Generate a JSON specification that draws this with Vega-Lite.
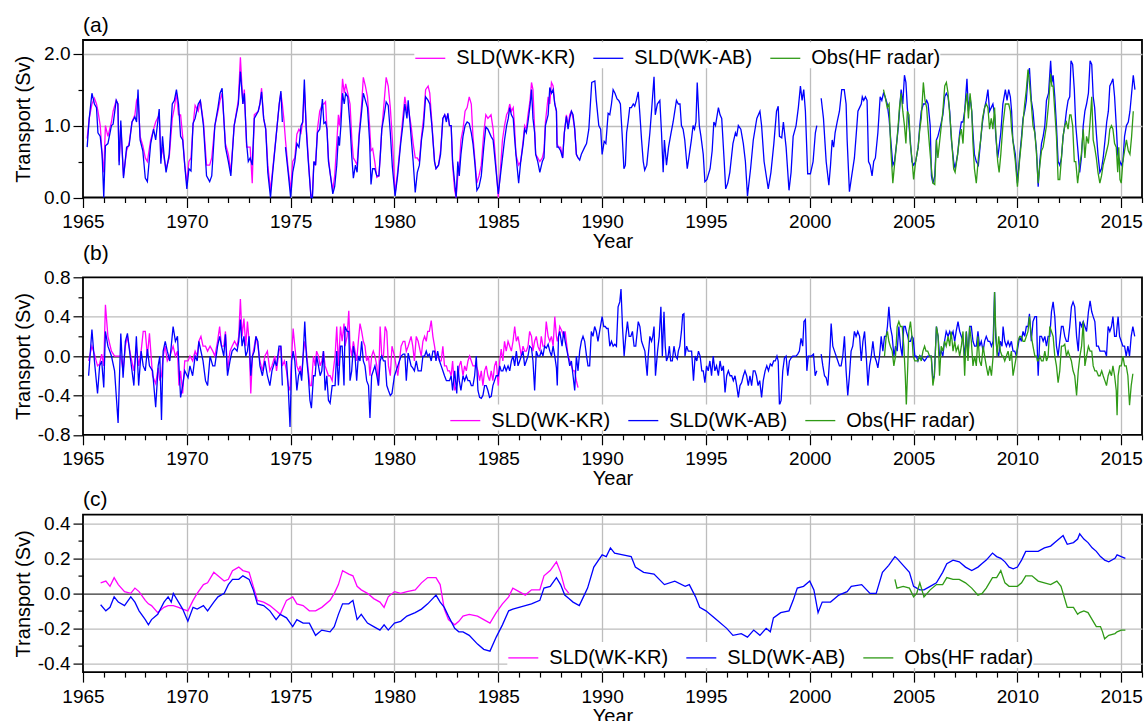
{
"$schema":"https://vega.github.io/schema/vega-lite/v6.json",
"background":"white",
"padding":{"left":12,"top":14,"right":8,"bottom":0},
"spacing":79.3,
"bounds":"flush",
"resolve":{"scale":{"color":"independent","y":"independent"},"legend":{"color":"independent"}},
"config":{
 "font":"Liberation Sans",
 "view":{"stroke":"black","strokeWidth":1.8},
 "axis":{"domain":false,"tickColor":"black","tickWidth":1.2,"labelColor":"black","labelFontSize":19,"titleFontSize":20,"titleFontWeight":"normal","titleColor":"black","gridColor":"#bdbdbd","gridWidth":1.3,"labelPadding":3,"labelOverlap":false,"labelBound":false,"labelFlush":false},
 "axisX":{"titlePadding":0,"labelPadding":5},
 "axisY":{"titleX":-60,"titleBaseline":"middle"},
 "legend":{"labelFontSize":20,"labelColor":"black","symbolType":"stroke","symbolSize":900,"symbolStrokeWidth":2,"fillColor":"white","padding":0,"columnPadding":15,"labelOffset":10,"direction":"horizontal","orient":"none"},
 "title":{"anchor":"start","fontSize":21,"fontWeight":"normal","color":"black","offset":4,"frame":"group"},
 "line":{"strokeWidth":1.3,"clip":true}
},
"datasets":{
"A":[
{"t":1965.2,"w":0.7,"k":0.82},{"t":1965.3,"w":1.1,"k":1.1},{"t":1965.43,"w":1.45,"k":1.3},{"t":1965.55,"w":1.3,"k":1.38},{"t":1965.65,"w":1.25,"k":1.3},{"t":1965.72,"w":0.9,"k":1.2},{"t":1965.83,"w":0.85,"k":1.0},{"t":1965.92,"w":0.6,"k":0.6},{"t":1966.0,"w":0.0,"k":0.35},{"t":1966.08,"w":0.72,"k":1.0},{"t":1966.2,"w":0.75,"k":0.85},{"t":1966.37,"w":1.0,"k":1.05},{"t":1966.45,"w":1.02,"k":1.2},{"t":1966.6,"w":1.35,"k":1.35},{"t":1966.68,"w":1.3,"k":1.3},{"t":1966.74,"w":0.45,"k":0.5},{"t":1966.82,"w":1.07,"k":1.0},{"t":1966.95,"w":0.27,"k":0.3},
{"t":1967.1,"w":0.7,"k":0.65},{"t":1967.22,"w":0.72,"k":0.75},{"t":1967.36,"w":1.05,"k":1.05},{"t":1967.5,"w":1.12,"k":1.15},{"t":1967.58,"w":1.05,"k":1.35},{"t":1967.65,"w":1.5,"k":1.4},{"t":1967.75,"w":0.8,"k":0.85},{"t":1967.88,"w":0.65,"k":0.72},{"t":1968.0,"w":0.27,"k":0.55},{"t":1968.1,"w":0.22,"k":0.5},{"t":1968.26,"w":0.75,"k":0.8},{"t":1968.4,"w":0.95,"k":0.95},{"t":1968.5,"w":0.8,"k":1.05},{"t":1968.67,"w":1.23,"k":1.15},{"t":1968.75,"w":0.47,"k":0.55},{"t":1968.83,"w":0.85,"k":0.7},{"t":1968.9,"w":0.6,"k":0.55},
{"t":1969.0,"w":0.35,"k":0.4},{"t":1969.15,"w":0.6,"k":0.55},{"t":1969.3,"w":1.3,"k":1.1},{"t":1969.4,"w":1.35,"k":1.25},{"t":1969.5,"w":1.5,"k":1.45},{"t":1969.6,"w":1.3,"k":1.15},{"t":1969.7,"w":0.85,"k":1.15},{"t":1969.8,"w":0.8,"k":0.85},{"t":1969.9,"w":0.45,"k":0.45},{"t":1970.0,"w":0.12,"k":0.2},{"t":1970.1,"w":0.4,"k":0.5},{"t":1970.2,"w":0.37,"k":0.55},{"t":1970.3,"w":1.03,"k":1.0},{"t":1970.4,"w":1.1,"k":1.28},{"t":1970.55,"w":1.3,"k":1.2},{"t":1970.65,"w":1.35,"k":1.35},{"t":1970.8,"w":1.0,"k":1.05},{"t":1970.95,"w":0.3,"k":0.45},
{"t":1971.1,"w":0.22,"k":0.45},{"t":1971.2,"w":0.3,"k":0.55},{"t":1971.35,"w":1.0,"k":1.0},{"t":1971.5,"w":1.25,"k":1.2},{"t":1971.6,"w":1.45,"k":1.35},{"t":1971.7,"w":1.52,"k":1.45},{"t":1971.86,"w":0.7,"k":0.75},{"t":1972.0,"w":0.5,"k":0.6},{"t":1972.12,"w":0.3,"k":0.35},{"t":1972.28,"w":1.0,"k":1.0},{"t":1972.48,"w":1.3,"k":1.35},{"t":1972.58,"w":1.75,"k":1.95},{"t":1972.7,"w":1.3,"k":1.3},{"t":1972.77,"w":1.45,"k":1.5},{"t":1972.88,"w":0.75,"k":0.7},{"t":1972.96,"w":0.5,"k":0.7},
{"t":1973.05,"w":0.55,"k":0.7},{"t":1973.15,"w":0.45,"k":0.2},{"t":1973.25,"w":1.1,"k":1.15},{"t":1973.44,"w":1.2,"k":1.2},{"t":1973.52,"w":1.3,"k":1.3},{"t":1973.6,"w":1.47,"k":1.52},{"t":1973.7,"w":1.1,"k":1.1},{"t":1973.8,"w":0.95,"k":0.95},{"t":1973.9,"w":0.35,"k":0.45},{"t":1974.03,"w":0.0,"k":0.1},{"t":1974.12,"w":0.3,"k":0.35},{"t":1974.3,"w":0.85,"k":0.85},{"t":1974.45,"w":1.3,"k":1.3},{"t":1974.53,"w":1.48,"k":1.45},{"t":1974.6,"w":1.05,"k":1.3},{"t":1974.67,"k":1.1},{"t":1974.75,"w":0.7,"k":0.8},{"t":1974.88,"w":0.35,"k":0.4},
{"t":1975.0,"w":0.0,"k":0.1},{"t":1975.1,"w":0.35,"k":0.5},{"t":1975.2,"w":0.5,"k":0.55},{"t":1975.3,"w":0.75,"k":0.88},{"t":1975.4,"w":0.7,"k":0.95},{"t":1975.5,"w":1.0,"k":0.9},{"t":1975.58,"w":1.05,"k":1.05},{"t":1975.66,"w":1.64,"k":1.5},{"t":1975.75,"w":0.95,"k":1.0},{"t":1975.85,"w":0.5,"k":0.55},{"t":1975.98,"w":0.0,"k":0.0},{"t":1976.05,"w":0.0,"k":0.05},{"t":1976.12,"w":0.5,"k":0.5},{"t":1976.2,"w":0.45,"k":0.45},{"t":1976.29,"w":0.9,"k":0.95},{"t":1976.4,"w":0.95,"k":1.2},{"t":1976.53,"w":1.37,"k":1.3},{"t":1976.6,"w":1.03,"k":1.3},{"t":1976.68,"w":1.05,"k":1.33},{"t":1976.75,"w":0.95,"k":0.95},{"t":1976.82,"w":0.5,"k":0.55},{"t":1976.92,"w":0.3,"k":0.3},
{"t":1977.03,"w":0.05,"k":0.1},{"t":1977.12,"w":0.15,"k":0.3},{"t":1977.22,"w":0.45,"k":0.75},{"t":1977.3,"w":0.85,"k":1.15},{"t":1977.35,"w":0.72,"k":1.0},{"t":1977.42,"w":1.0,"k":1.2},{"t":1977.5,"w":1.45,"k":1.65},{"t":1977.58,"w":1.3,"k":1.45},{"t":1977.65,"w":1.45,"k":1.58},{"t":1977.75,"w":1.4,"k":1.45},{"t":1977.86,"w":1.0,"k":1.3},{"t":1977.95,"w":0.55,"k":0.8},{"t":1978.02,"w":0.27,"k":0.55},{"t":1978.12,"w":0.45,"k":0.5},{"t":1978.2,"w":0.35,"k":0.45},{"t":1978.3,"w":0.85,"k":0.9},{"t":1978.42,"w":1.2,"k":1.3},{"t":1978.5,"w":1.45,"k":1.67},{"t":1978.6,"w":1.35,"k":1.55},{"t":1978.7,"w":1.25,"k":1.4},{"t":1978.8,"w":0.8,"k":1.0},{"t":1978.87,"w":0.18,"k":0.65},{"t":1978.95,"w":0.4,"k":0.68},
{"t":1979.05,"w":0.4,"k":0.5},{"t":1979.15,"w":0.3,"k":0.28},{"t":1979.25,"w":0.3,"k":0.3},{"t":1979.32,"w":0.6,"k":0.6},{"t":1979.39,"w":0.95,"k":0.95},{"t":1979.48,"w":1.1,"k":1.25},{"t":1979.6,"w":1.33,"k":1.67},{"t":1979.7,"w":1.28,"k":1.55},{"t":1979.8,"w":0.9,"k":1.25},{"t":1979.9,"w":0.42,"k":0.8},{"t":1980.03,"w":0.02,"k":0.05},{"t":1980.15,"w":0.3,"k":0.35},{"t":1980.3,"w":0.75,"k":0.8},{"t":1980.4,"w":1.0,"k":1.1},{"t":1980.5,"w":1.3,"k":1.4},{"t":1980.6,"w":1.1,"k":1.2},{"t":1980.66,"w":1.35,"k":1.25},{"t":1980.8,"w":0.85,"k":1.0},{"t":1980.9,"w":0.5,"k":0.75},
{"t":1981.0,"w":0.07,"k":0.55},{"t":1981.1,"w":0.35,"k":0.55},{"t":1981.2,"w":0.45,"k":0.5},{"t":1981.3,"w":0.8,"k":0.85},{"t":1981.4,"w":1.0,"k":1.1},{"t":1981.5,"w":1.4,"k":1.5},{"t":1981.62,"w":1.35,"k":1.55},{"t":1981.7,"w":1.3,"k":1.45},{"t":1981.8,"w":1.0,"k":1.05},{"t":1981.93,"w":0.5,"k":0.5},{"t":1982.0,"w":0.4,"k":0.4},{"t":1982.12,"w":0.45,"k":0.45},{"t":1982.22,"w":0.6,"k":0.65},{"t":1982.33,"w":1.1,"k":1.1},{"t":1982.42,"w":1.15,"k":1.15},{"t":1982.5,"w":1.05,"k":1.1},{"t":1982.57,"w":1.17,"k":1.15},{"t":1982.65,"w":1.0,"k":1.0},{"t":1982.73,"w":1.0,"k":1.0},{"t":1982.8,"w":0.5,"k":0.45},{"t":1982.9,"w":0.2,"k":0.1},{"t":1982.97,"w":0.0,"k":0.0},
{"t":1983.05,"w":0.5,"k":0.3},{"t":1983.12,"w":0.3,"k":0.4},{"t":1983.2,"w":0.6,"k":0.8},{"t":1983.3,"w":0.85,"k":0.95},{"t":1983.4,"w":1.0,"k":1.2},{"t":1983.5,"w":1.05,"k":1.25},{"t":1983.6,"w":1.03,"k":1.4},{"t":1983.7,"w":0.9,"k":1.3},{"t":1983.78,"w":0.75,"k":0.85},{"t":1983.88,"w":0.45,"k":0.5},{"t":1983.97,"w":0.1,"k":0.2},{"t":1984.07,"w":0.15,"k":0.3},{"t":1984.18,"w":0.3,"k":0.45},{"t":1984.3,"w":0.7,"k":0.9},{"t":1984.4,"w":0.98,"k":1.15},{"t":1984.5,"w":0.95,"k":1.1},{"t":1984.65,"w":0.85,"k":1.15},{"t":1984.75,"w":0.8,"k":0.95},{"t":1984.85,"w":0.5,"k":0.6},
{"t":1985.0,"w":0.05,"k":0.0},{"t":1985.08,"w":0.25,"k":0.3},{"t":1985.2,"w":0.55,"k":0.8},{"t":1985.3,"w":0.8,"k":1.0},{"t":1985.4,"w":1.0,"k":1.15},{"t":1985.48,"w":1.1,"k":1.2},{"t":1985.55,"w":1.25,"k":1.3},{"t":1985.63,"w":1.15,"k":1.2},{"t":1985.72,"w":1.1,"k":1.25},{"t":1985.78,"w":0.85,"k":1.0},{"t":1985.85,"w":0.6,"k":0.6},{"t":1985.98,"w":0.2,"k":0.45},{"t":1986.08,"w":0.5,"k":0.5},{"t":1986.2,"w":0.75,"k":0.8},{"t":1986.27,"w":0.95,"k":1.0},{"t":1986.35,"w":0.9,"k":0.95},{"t":1986.43,"w":1.05,"k":1.15},{"t":1986.53,"w":1.28,"k":1.35},{"t":1986.6,"w":1.5,"k":1.6},{"t":1986.67,"w":1.1,"k":1.5},{"t":1986.75,"w":0.9,"k":0.95},{"t":1986.8,"w":0.6,"k":0.6},{"t":1986.9,"w":0.5,"k":0.55},
{"t":1987.0,"w":0.35,"k":0.5},{"t":1987.12,"w":0.5,"k":0.55},{"t":1987.2,"w":0.55,"k":0.65},{"t":1987.27,"w":1.0,"k":1.05},{"t":1987.4,"w":1.15,"k":1.4},{"t":1987.48,"w":1.53,"k":1.3},{"t":1987.56,"w":1.45,"k":1.6},{"t":1987.64,"w":1.5,"k":1.55},{"t":1987.72,"w":1.3,"k":1.3},{"t":1987.8,"w":1.2,"k":1.2},{"t":1987.83,"w":0.7,"k":0.75},{"t":1987.9,"w":0.7,"k":0.7},{"t":1988.0,"w":0.65,"k":0.7},{"t":1988.1,"w":0.55,"k":0.55},{"t":1988.18,"w":0.9,"k":0.9},{"t":1988.28,"w":1.13,"k":1.15},{"t":1988.36,"w":0.95,"k":1.0},{"t":1988.44,"w":1.1,"k":1.15},{"t":1988.52,"w":1.2,"k":1.2},{"t":1988.6,"w":1.15,"k":1.1},{"t":1988.68,"w":0.95,"k":0.95},{"t":1988.76,"w":0.6,"k":0.6},{"t":1988.84,"w":0.55,"k":0.55},
{"t":1988.92,"w":0.52},{"t":1989.0,"w":0.6},{"t":1989.16,"w":0.7},{"t":1989.25,"w":0.75},{"t":1989.36,"w":0.95},{"t":1989.5,"w":1.6},{"t":1989.65,"w":1.62},{"t":1989.72,"w":1.35},{"t":1989.84,"w":1.0},{"t":1989.93,"w":0.95},{"t":1990.0,"w":0.6},{"t":1990.1,"w":0.78},{"t":1990.18,"w":0.75},{"t":1990.29,"w":1.17},{"t":1990.37,"w":1.15},{"t":1990.45,"w":1.3},{"t":1990.53,"w":1.5},{"t":1990.62,"w":1.45},{"t":1990.72,"w":1.37},{"t":1990.8,"w":1.35},{"t":1990.88,"w":1.3},{"t":1990.96,"w":0.9},
{"t":1991.05,"w":0.4},{"t":1991.12,"w":0.45},{"t":1991.18,"w":0.9},{"t":1991.25,"w":1.05},{"t":1991.33,"w":1.25},{"t":1991.41,"w":1.25},{"t":1991.5,"w":1.3},{"t":1991.57,"w":1.27},{"t":1991.65,"w":1.35},{"t":1991.74,"w":1.47},{"t":1991.82,"w":1.15},{"t":1991.9,"w":0.8},{"t":1991.98,"w":0.5},{"t":1992.05,"w":0.38},{"t":1992.15,"w":0.45},{"t":1992.3,"w":0.9},{"t":1992.38,"w":1.2},{"t":1992.5,"w":1.68},{"t":1992.56,"w":1.15},{"t":1992.66,"w":1.3},{"t":1992.78,"w":1.35},{"t":1992.86,"w":0.9},{"t":1992.94,"w":0.35},
{"t":1993.0,"w":0.8},{"t":1993.1,"w":0.45},{"t":1993.2,"w":0.7},{"t":1993.32,"w":0.9},{"t":1993.42,"w":1.05},{"t":1993.5,"w":1.2},{"t":1993.58,"w":1.35},{"t":1993.67,"w":1.3},{"t":1993.75,"w":1.3},{"t":1993.82,"w":1.0},{"t":1993.9,"w":0.95},{"t":1993.98,"w":0.8},{"t":1994.1,"w":0.4},{"t":1994.2,"w":0.6},{"t":1994.3,"w":0.8},{"t":1994.38,"w":1.0},{"t":1994.45,"w":0.95},{"t":1994.52,"w":1.05},{"t":1994.58,"w":1.6},{"t":1994.68,"w":1.0},{"t":1994.76,"w":0.85},{"t":1994.87,"w":0.6},{"t":1994.95,"w":0.22},
{"t":1995.05,"w":0.25},{"t":1995.2,"w":0.4},{"t":1995.3,"w":0.65},{"t":1995.38,"w":1.05},{"t":1995.46,"w":1.0},{"t":1995.6,"w":1.25},{"t":1995.68,"w":1.15},{"t":1995.76,"w":1.1},{"t":1995.88,"w":0.5},{"t":1995.95,"w":0.12},{"t":1996.05,"w":0.2},{"t":1996.15,"w":0.35},{"t":1996.3,"w":0.75},{"t":1996.42,"w":0.9},{"t":1996.48,"w":0.85},{"t":1996.56,"w":1.0},{"t":1996.68,"w":0.95},{"t":1996.8,"w":0.75},{"t":1996.9,"w":0.5},
{"t":1997.0,"w":0.02},{"t":1997.15,"w":0.4},{"t":1997.28,"w":0.8},{"t":1997.45,"w":1.1},{"t":1997.6,"w":1.2},{"t":1997.68,"w":1.0},{"t":1997.8,"w":0.5},{"t":1998.0,"w":0.12},{"t":1998.13,"w":0.35},{"t":1998.27,"w":0.75},{"t":1998.4,"w":1.2},{"t":1998.48,"w":1.27},{"t":1998.54,"w":0.85},{"t":1998.65,"w":0.83},{"t":1998.73,"w":1.05},{"t":1998.86,"w":0.7},
{"t":1999.0,"w":0.1},{"t":1999.1,"w":0.35},{"t":1999.2,"w":0.85},{"t":1999.34,"w":1.0},{"t":1999.45,"w":1.25},{"t":1999.55,"w":1.55},{"t":1999.63,"w":1.35},{"t":1999.71,"w":1.5},{"t":1999.79,"w":1.2},{"t":1999.9,"w":0.33},{"t":2000.03,"w":0.33},{"t":2000.16,"w":0.5},{"t":2000.27,"w":0.9},{"t":2000.34,"w":1.0},{"t":2000.45},{"t":2000.55,"w":1.38},{"t":2000.66,"w":1.1},{"t":2000.79,"w":0.5},{"t":2000.92,"w":0.17},
{"t":2001.0,"w":0.45},{"t":2001.08,"w":0.8},{"t":2001.15,"w":0.7},{"t":2001.22,"w":0.9},{"t":2001.32,"w":1.05},{"t":2001.43,"w":1.2},{"t":2001.54,"w":1.5},{"t":2001.66,"w":1.5},{"t":2001.75,"w":1.3},{"t":2001.8,"w":0.8},{"t":2001.91,"w":0.08},{"t":2002.02,"w":0.3},{"t":2002.15,"w":0.55},{"t":2002.23,"w":0.85},{"t":2002.32,"w":1.2},{"t":2002.4,"w":1.25},{"t":2002.48,"w":1.3},{"t":2002.53,"w":1.4},{"t":2002.6,"w":1.35},{"t":2002.68,"w":1.4},{"t":2002.76,"w":1.35},{"t":2002.83,"w":0.5},{"t":2002.91,"w":0.45},
{"t":2003.0,"w":0.3},{"t":2003.08,"w":0.5},{"t":2003.16,"w":0.55},{"t":2003.28,"w":0.9},{"t":2003.39,"w":1.4},{"t":2003.47,"w":1.35},{"t":2003.55,"w":1.45,"o":1.5},{"t":2003.63,"w":1.4,"o":1.4},{"t":2003.73,"w":1.3,"o":1.25},{"t":2003.82,"w":1.1,"o":1.3},{"t":2003.9,"w":0.8,"o":0.7},
{"t":2004.0,"w":0.45,"o":0.2},{"t":2004.08,"w":0.5,"o":0.45},{"t":2004.2,"w":0.8,"o":0.8},{"t":2004.27,"w":1.0,"o":1.05},{"t":2004.32,"w":1.2,"o":1.25},{"t":2004.4,"w":1.5,"o":1.45},{"t":2004.48,"w":1.3,"o":1.2},{"t":2004.56,"w":1.7,"o":1.0},{"t":2004.63,"w":1.6,"o":0.75},{"t":2004.7,"w":1.25,"o":1.2},{"t":2004.78,"w":1.0,"o":1.15},{"t":2004.84,"w":0.8,"o":0.75},{"t":2004.92,"w":0.5,"o":0.55},
{"t":2005.0,"w":0.45,"o":0.25},{"t":2005.1,"w":0.5,"o":0.5},{"t":2005.22,"w":0.7,"o":0.7},{"t":2005.3,"w":1.0,"o":0.95},{"t":2005.37,"w":1.2,"o":1.1},{"t":2005.47,"w":1.3,"o":1.6},{"t":2005.55,"w":1.3,"o":1.35},{"t":2005.63,"w":1.35,"o":1.25},{"t":2005.7,"w":1.3,"o":0.95},{"t":2005.8,"w":1.0,"o":0.6},{"t":2005.86,"w":0.3,"o":0.4},{"t":2005.93,"w":0.2,"o":0.2},
{"t":2006.02,"w":0.3,"o":0.18},{"t":2006.1,"w":0.8,"o":0.8},{"t":2006.17,"w":0.85,"o":0.55},{"t":2006.3,"w":1.0,"o":0.9},{"t":2006.41,"w":1.15,"o":1.2},{"t":2006.5,"w":1.4,"o":1.55},{"t":2006.58,"w":1.45,"o":1.6},{"t":2006.66,"w":1.4,"o":1.45},{"t":2006.74,"w":1.2,"o":1.15},{"t":2006.82,"w":0.8,"o":0.85},{"t":2006.93,"w":0.5,"o":0.4},
{"t":2007.0,"w":0.4,"o":0.35},{"t":2007.12,"w":0.6,"o":0.6},{"t":2007.22,"w":0.9,"o":0.85},{"t":2007.3,"w":1.05,"o":0.95},{"t":2007.38,"w":1.05,"o":0.75},{"t":2007.46,"w":1.2,"o":1.2},{"t":2007.57,"w":1.65,"o":1.45},{"t":2007.64,"w":1.2,"o":1.1},{"t":2007.72,"w":1.4,"o":1.45},{"t":2007.8,"w":1.2,"o":1.2},{"t":2007.86,"w":0.9,"o":0.75},{"t":2007.93,"w":0.6,"o":0.4},
{"t":2008.02,"w":0.5,"o":0.2},{"t":2008.12,"w":0.45,"o":0.55},{"t":2008.23,"w":0.8,"o":0.8},{"t":2008.32,"w":1.05,"o":1.1},{"t":2008.42,"w":1.25,"o":1.25},{"t":2008.5,"w":1.35,"o":1.3},{"t":2008.58,"w":1.5,"o":1.25},{"t":2008.66,"w":1.2,"o":0.95},{"t":2008.74,"w":1.25,"o":1.1},{"t":2008.82,"w":1.3,"o":0.95},{"t":2008.9,"w":1.15,"o":1.25},{"t":2008.96,"w":0.85,"o":0.9},
{"t":2009.05,"w":0.55,"o":0.5},{"t":2009.12,"w":0.7,"o":0.35},{"t":2009.2,"w":0.9,"o":0.6},{"t":2009.3,"w":1.3,"o":1.0},{"t":2009.36,"w":1.4,"o":1.15},{"t":2009.42,"w":1.5,"o":1.3},{"t":2009.5,"w":1.35,"o":1.3},{"t":2009.58,"w":1.5,"o":1.3},{"t":2009.66,"w":1.4,"o":1.2},{"t":2009.72,"w":1.2,"o":0.95},{"t":2009.78,"w":0.8,"o":0.8},{"t":2009.9,"w":0.6,"o":0.5},
{"t":2010.0,"w":0.2,"o":0.15},{"t":2010.1,"w":0.55,"o":0.5},{"t":2010.2,"w":0.85,"o":0.8},{"t":2010.27,"w":1.1,"o":1.05},{"t":2010.35,"w":1.2,"o":1.3},{"t":2010.43,"w":1.35,"o":1.5},{"t":2010.51,"w":1.7,"o":1.78},{"t":2010.58,"w":1.8,"o":1.6},{"t":2010.67,"w":1.35,"o":1.3},{"t":2010.75,"w":1.2,"o":1.0},{"t":2010.84,"w":0.9,"o":0.9},{"t":2010.92,"w":0.65,"o":0.6},
{"t":2011.0,"w":0.15,"o":0.2},{"t":2011.08,"w":0.5,"o":0.45},{"t":2011.16,"w":0.75,"o":0.65},{"t":2011.24,"w":0.85,"o":0.7},{"t":2011.32,"w":1.0,"o":0.85},{"t":2011.4,"w":1.35,"o":1.0},{"t":2011.5,"w":1.45,"o":1.3},{"t":2011.6,"w":1.9,"o":1.72},{"t":2011.66,"w":1.6,"o":1.55},{"t":2011.72,"w":1.7,"o":1.55},{"t":2011.8,"w":1.4,"o":1.2},{"t":2011.88,"w":1.0,"o":0.85},{"t":2011.96,"w":0.5,"o":0.25},
{"t":2012.04,"w":0.45,"o":0.25},{"t":2012.12,"w":0.55,"o":0.55},{"t":2012.2,"w":0.85,"o":0.85},{"t":2012.28,"w":1.0,"o":1.0},{"t":2012.36,"w":1.2,"o":1.05},{"t":2012.44,"w":1.35,"o":0.95},{"t":2012.52,"w":1.4,"o":1.15},{"t":2012.58,"w":1.9,"o":1.15},{"t":2012.66,"w":1.85,"o":1.0},{"t":2012.74,"w":1.5,"o":0.5},{"t":2012.81,"w":1.0,"o":0.5},{"t":2012.9,"w":0.7,"o":0.2},
{"t":2013.0,"w":0.35,"o":0.45},{"t":2013.08,"w":0.55,"o":0.6},{"t":2013.17,"w":1.0,"o":0.95},{"t":2013.25,"w":1.2,"o":0.55},{"t":2013.33,"w":1.3,"o":0.85},{"t":2013.42,"w":1.45,"o":0.75},{"t":2013.5,"w":1.9,"o":1.05},{"t":2013.58,"w":1.85,"o":1.4},{"t":2013.65,"w":1.4,"o":0.8},{"t":2013.72,"w":1.25,"o":0.7},{"t":2013.8,"w":0.9,"o":0.55},{"t":2013.88,"w":0.6,"o":0.35},{"t":2013.97,"w":0.35,"o":0.2},
{"t":2014.05,"w":0.4,"o":0.3},{"t":2014.13,"w":0.55,"o":0.45},{"t":2014.22,"w":0.8,"o":0.55},{"t":2014.3,"w":1.05,"o":0.65},{"t":2014.38,"w":1.2,"o":0.75},{"t":2014.45,"w":1.55,"o":0.95},{"t":2014.53,"w":1.6,"o":1.0},{"t":2014.6,"w":1.65,"o":0.95},{"t":2014.68,"w":1.4,"o":0.75},{"t":2014.76,"w":1.0,"o":0.7},{"t":2014.83,"w":0.6,"o":0.35},{"t":2014.88,"w":0.55,"o":0.7},{"t":2014.94,"w":0.5,"o":0.25},
{"t":2015.0,"w":0.45,"o":0.2},{"t":2015.08,"w":0.5,"o":0.5},{"t":2015.16,"w":0.85,"o":0.65},{"t":2015.25,"w":1.0,"o":0.8},{"t":2015.34,"w":1.05,"o":0.65},{"t":2015.42,"w":1.2,"o":0.6},{"t":2015.5,"w":1.45,"o":0.85},{"t":2015.58,"w":1.7,"o":1.2},{"t":2015.66,"w":1.5}
],
"B":[
{"t":1965.27,"w":-0.2,"k":-0.05},{"t":1965.43,"w":0.27,"k":0.1},{"t":1965.55,"w":-0.05,"k":0.02},{"t":1965.7,"w":-0.38,"k":-0.1},{"t":1965.8,"w":-0.1,"k":-0.08},{"t":1965.9,"w":-0.05,"k":0.02},{"t":1966.0,"w":-0.32,"k":-0.1},{"t":1966.08,"w":0.25,"k":0.52},{"t":1966.2,"w":0.1,"k":0.2},{"t":1966.37,"w":0.0,"k":0.05},{"t":1966.52,"w":-0.15,"k":0.0},{"t":1966.69,"w":-0.68,"k":0.0},{"t":1966.82,"w":0.23,"k":0.0},{"t":1966.93,"w":-0.22,"k":-0.15},
{"t":1967.04,"w":0.15,"k":0.1},{"t":1967.14,"w":0.23,"k":0.2},{"t":1967.3,"w":-0.05,"k":0.0},{"t":1967.45,"w":-0.3,"k":-0.15},{"t":1967.57,"w":0.2,"k":0.1},{"t":1967.68,"w":-0.3,"k":-0.1},{"t":1967.8,"w":0.05,"k":0.05},{"t":1967.9,"w":-0.1,"k":0.25},{"t":1968.0,"w":-0.15,"k":0.25},{"t":1968.1,"w":0.07,"k":0.0},{"t":1968.2,"w":-0.1,"k":0.23},{"t":1968.35,"w":-0.15,"k":-0.2},{"t":1968.5,"w":-0.52,"k":-0.28},{"t":1968.62,"w":-0.1,"k":-0.12},{"t":1968.7,"w":0.0,"k":-0.25},{"t":1968.78,"w":-0.65,"k":-0.2},{"t":1968.86,"w":0.05,"k":0.0},{"t":1968.96,"w":0.15,"k":0.1},
{"t":1969.06,"w":0.05,"k":-0.05},{"t":1969.18,"w":-0.05,"k":0.0},{"t":1969.34,"w":0.3,"k":0.1},{"t":1969.45,"w":0.15,"k":0.0},{"t":1969.55,"w":0.2,"k":0.05},{"t":1969.62,"w":-0.1,"k":-0.3},{"t":1969.7,"w":-0.42,"k":-0.15},{"t":1969.8,"w":-0.3,"k":-0.38},{"t":1969.9,"w":-0.15,"k":-0.05},{"t":1970.06,"w":-0.22,"k":-0.05},{"t":1970.15,"w":-0.1,"k":0.0},{"t":1970.28,"w":-0.2,"k":-0.05},{"t":1970.4,"w":0.0,"k":0.05},{"t":1970.5,"w":-0.05,"k":0.0},{"t":1970.58,"w":0.15,"k":0.15},{"t":1970.68,"w":0.05,"k":0.2},{"t":1970.78,"w":-0.05,"k":0.1},{"t":1970.9,"w":-0.25,"k":0.1},
{"t":1971.0,"w":-0.3,"k":0.05},{"t":1971.12,"w":0.0,"k":0.1},{"t":1971.25,"w":-0.1,"k":0.05},{"t":1971.35,"w":-0.1,"k":0.0},{"t":1971.48,"w":0.1,"k":0.15},{"t":1971.58,"w":0.2,"k":0.3},{"t":1971.67,"w":0.1,"k":0.1},{"t":1971.78,"w":0.0,"k":0.1},{"t":1971.86,"w":0.22,"k":0.25},{"t":1971.96,"w":-0.2,"k":-0.15},{"t":1972.08,"w":-0.05,"k":0.05},{"t":1972.18,"w":0.05,"k":0.1},{"t":1972.3,"w":0.08,"k":0.15},{"t":1972.42,"w":0.05,"k":0.1},{"t":1972.5,"w":0.15,"k":0.2},{"t":1972.58,"w":0.37,"k":0.58},{"t":1972.66,"w":0.1,"k":0.2},{"t":1972.75,"w":0.2,"k":0.38},{"t":1972.84,"w":0.0,"k":0.1},{"t":1972.92,"w":0.05,"k":0.35},
{"t":1973.0,"w":0.2,"k":0.15},{"t":1973.08,"w":-0.2,"k":-0.38},{"t":1973.16,"w":0.0,"k":0.0},{"t":1973.25,"w":0.05,"k":0.1},{"t":1973.33,"w":0.2,"k":0.2},{"t":1973.42,"w":0.15,"k":0.1},{"t":1973.52,"w":-0.1,"k":-0.05},{"t":1973.64,"w":-0.2,"k":-0.15},{"t":1973.76,"w":-0.05,"k":0.0},{"t":1973.88,"w":-0.2,"k":0.05},{"t":1974.0,"w":-0.3,"k":-0.15},{"t":1974.1,"w":-0.15,"k":-0.1},{"t":1974.24,"w":-0.05,"k":0.0},{"t":1974.32,"w":-0.1,"k":-0.15},{"t":1974.44,"w":0.1,"k":0.05},{"t":1974.53,"w":0.1,"k":0.1},{"t":1974.6,"w":-0.3,"k":-0.1},{"t":1974.7,"k":-0.05},{"t":1974.8,"w":-0.05,"k":-0.15},{"t":1974.88,"w":-0.3,"k":-0.3},{"t":1974.97,"w":-0.72,"k":-0.35},
{"t":1975.05,"w":-0.05,"k":0.0},{"t":1975.12,"w":0.05,"k":0.28},{"t":1975.2,"w":-0.05,"k":0.1},{"t":1975.3,"w":-0.35,"k":-0.1},{"t":1975.38,"w":-0.2,"k":-0.15},{"t":1975.46,"w":-0.15,"k":-0.1},{"t":1975.53,"w":-0.25,"k":-0.2},{"t":1975.6,"w":0.0,"k":0.0},{"t":1975.68,"w":0.35,"k":0.15},{"t":1975.76,"w":0.0,"k":0.05},{"t":1975.85,"w":-0.2,"k":-0.15},{"t":1975.93,"w":-0.45,"k":-0.3},{"t":1976.0,"w":-0.53,"k":-0.3},{"t":1976.1,"w":-0.2,"k":0.0},{"t":1976.18,"w":-0.2,"k":-0.1},{"t":1976.25,"w":0.0,"k":0.05},{"t":1976.34,"w":-0.1,"k":0.0},{"t":1976.42,"w":-0.2,"k":-0.1},{"t":1976.5,"w":-0.15,"k":-0.05},{"t":1976.58,"w":0.05,"k":0.05},{"t":1976.66,"w":-0.35,"k":-0.1},{"t":1976.74,"w":-0.2,"k":-0.15},{"t":1976.82,"w":-0.45,"k":-0.2},{"t":1976.9,"w":-0.48,"k":-0.2},
{"t":1977.0,"w":-0.3,"k":-0.25},{"t":1977.08,"w":-0.3,"k":-0.1},{"t":1977.14,"w":-0.3,"k":0.0},{"t":1977.22,"w":0.05,"k":0.3},{"t":1977.3,"w":-0.3,"k":-0.1},{"t":1977.4,"w":0.1,"k":0.3},{"t":1977.48,"w":0.1,"k":0.15},{"t":1977.57,"w":-0.3,"k":0.33},{"t":1977.62,"w":0.3,"k":0.1},{"t":1977.72,"w":0.25,"k":0.2},{"t":1977.8,"w":0.25,"k":0.46},{"t":1977.86,"w":-0.25,"k":0.1},{"t":1977.94,"w":-0.15,"k":0.0},{"t":1978.02,"w":0.1,"k":0.15},{"t":1978.1,"w":0.0,"k":0.05},{"t":1978.18,"w":-0.25,"k":-0.05},{"t":1978.26,"w":0.0,"k":0.15},{"t":1978.34,"w":-0.05,"k":0.33},{"t":1978.42,"w":0.15,"k":0.25},{"t":1978.5,"w":-0.05,"k":0.15},{"t":1978.58,"w":-0.1,"k":0.1},{"t":1978.66,"w":-0.25,"k":-0.05},{"t":1978.75,"w":-0.3,"k":0.0},{"t":1978.82,"w":-0.63,"k":-0.2},{"t":1978.9,"w":-0.2,"k":0.0},{"t":1978.98,"w":-0.15,"k":0.05},
{"t":1979.06,"w":-0.1,"k":0.0},{"t":1979.15,"w":-0.2,"k":-0.1},{"t":1979.23,"w":-0.3,"k":-0.3},{"t":1979.31,"w":-0.05,"k":0.3},{"t":1979.39,"w":0.0,"k":0.0},{"t":1979.47,"w":-0.05,"k":0.0},{"t":1979.55,"w":-0.05,"k":0.3},{"t":1979.63,"w":-0.3,"k":0.25},{"t":1979.71,"w":-0.35,"k":-0.1},{"t":1979.8,"w":-0.4,"k":-0.2},{"t":1979.88,"w":-0.38,"k":0.1},{"t":1980.0,"w":-0.2,"k":0.0},{"t":1980.16,"w":-0.1,"k":-0.2},{"t":1980.32,"w":0.0,"k":0.1},{"t":1980.42,"w":0.02,"k":0.15},{"t":1980.5,"w":0.02,"k":0.15},{"t":1980.57,"w":-0.25,"k":0.05},{"t":1980.66,"w":0.03,"k":0.1},{"t":1980.8,"w":-0.1,"k":0.2},{"t":1980.88,"w":-0.12,"k":0.1},{"t":1980.96,"w":-0.15,"k":-0.05},
{"t":1981.05,"w":-0.05,"k":0.2},{"t":1981.14,"w":-0.15,"k":0.15},{"t":1981.29,"w":-0.15,"k":0.0},{"t":1981.37,"w":0.0,"k":0.15},{"t":1981.45,"w":0.0,"k":0.2},{"t":1981.53,"w":0.05,"k":0.15},{"t":1981.6,"w":0.0,"k":0.25},{"t":1981.68,"w":0.02,"k":0.25},{"t":1981.77,"w":-0.05,"k":0.36},{"t":1981.85,"w":0.05,"k":0.2},{"t":1981.93,"w":0.05,"k":0.1},{"t":1982.0,"w":-0.05,"k":0.0},{"t":1982.08,"w":0.05,"k":0.0},{"t":1982.17,"w":-0.05,"k":-0.05},{"t":1982.25,"w":-0.1,"k":-0.05},{"t":1982.33,"w":-0.15,"k":0.1},{"t":1982.41,"w":-0.2,"k":-0.1},{"t":1982.5,"w":-0.25,"k":-0.1},{"t":1982.57,"w":-0.25,"k":-0.15},{"t":1982.65,"w":-0.25,"k":-0.15},{"t":1982.73,"w":-0.2,"k":-0.2},{"t":1982.8,"w":-0.35,"k":-0.05},{"t":1982.9,"w":-0.15,"k":-0.35},
{"t":1983.0,"w":-0.38,"k":-0.3},{"t":1983.05,"w":-0.1,"k":-0.25},{"t":1983.12,"w":-0.25,"k":-0.1},{"t":1983.2,"w":-0.35,"k":-0.05},{"t":1983.3,"w":-0.2,"k":-0.2},{"t":1983.38,"w":-0.25,"k":-0.1},{"t":1983.46,"w":-0.2,"k":-0.15},{"t":1983.54,"w":-0.25,"k":-0.05},{"t":1983.62,"w":-0.25,"k":0.0},{"t":1983.7,"w":-0.3,"k":-0.05},{"t":1983.78,"w":-0.3,"k":-0.1},{"t":1983.86,"w":-0.2,"k":-0.1},{"t":1983.94,"w":0.0,"k":-0.1},{"t":1984.02,"w":-0.35,"k":-0.15},{"t":1984.1,"w":-0.42,"k":-0.25},{"t":1984.18,"w":-0.43,"k":-0.15},{"t":1984.26,"w":-0.4,"k":-0.3},{"t":1984.34,"w":-0.3,"k":-0.15},{"t":1984.42,"w":-0.3,"k":-0.1},{"t":1984.5,"w":-0.35,"k":-0.2},{"t":1984.58,"w":-0.42,"k":-0.25},{"t":1984.66,"w":-0.41,"k":-0.15},{"t":1984.74,"w":-0.3,"k":-0.25},{"t":1984.82,"w":-0.25,"k":-0.1},{"t":1984.9,"w":-0.2,"k":-0.05},
{"t":1985.0,"w":-0.2,"k":-0.3},{"t":1985.07,"w":-0.1,"k":-0.05},{"t":1985.14,"w":-0.15,"k":0.07},{"t":1985.22,"w":-0.15,"k":-0.05},{"t":1985.3,"w":-0.1,"k":0.15},{"t":1985.38,"w":-0.15,"k":0.05},{"t":1985.47,"w":-0.1,"k":0.15},{"t":1985.55,"w":-0.15,"k":0.1},{"t":1985.63,"w":-0.05,"k":0.05},{"t":1985.71,"w":0.0,"k":0.15},{"t":1985.79,"w":-0.1,"k":0.3},{"t":1985.87,"w":0.05,"k":0.15},{"t":1985.95,"w":-0.1,"k":0.2},{"t":1986.03,"w":-0.05,"k":0.1},{"t":1986.11,"w":0.0,"k":0.0},{"t":1986.19,"w":0.05,"k":0.1},{"t":1986.27,"w":-0.1,"k":0.05},{"t":1986.35,"w":-0.05,"k":0.05},{"t":1986.43,"w":0.0,"k":0.1},{"t":1986.51,"w":0.1,"k":0.25},{"t":1986.6,"w":0.08,"k":0.2},{"t":1986.67,"w":-0.05,"k":0.05},{"t":1986.75,"w":-0.35,"k":0.15},{"t":1986.83,"w":0.05,"k":0.2},{"t":1986.91,"w":0.0,"k":0.1},
{"t":1987.0,"w":0.0,"k":0.05},{"t":1987.07,"w":0.05,"k":0.2},{"t":1987.15,"w":0.0,"k":0.1},{"t":1987.23,"w":0.1,"k":0.1},{"t":1987.31,"w":0.08,"k":0.35},{"t":1987.4,"w":0.12,"k":0.2},{"t":1987.48,"w":0.05,"k":0.15},{"t":1987.56,"w":0.0,"k":0.2},{"t":1987.64,"w":0.1,"k":0.1},{"t":1987.72,"w":0.0,"k":0.4},{"t":1987.8,"w":-0.12,"k":0.2},{"t":1987.84,"w":-0.3,"k":0.15},{"t":1987.9,"w":0.2,"k":0.2},{"t":1987.96,"w":0.25,"k":0.3},{"t":1988.07,"w":0.1,"k":0.25},{"t":1988.15,"w":0.25,"k":0.2},{"t":1988.22,"w":0.15,"k":0.25},{"t":1988.36,"w":0.0,"k":0.0},{"t":1988.44,"w":-0.1,"k":-0.05},{"t":1988.52,"w":-0.05,"k":-0.1},{"t":1988.6,"w":-0.2,"k":-0.15},{"t":1988.68,"w":-0.35,"k":-0.15},{"t":1988.76,"w":0.0,"k":-0.25},{"t":1988.84,"w":-0.15,"k":-0.32},
{"t":1988.92,"w":0.05},{"t":1989.0,"w":0.15},{"t":1989.08,"w":0.2},{"t":1989.16,"w":0.15},{"t":1989.25,"w":0.0},{"t":1989.32,"w":-0.1},{"t":1989.4,"w":-0.1},{"t":1989.48,"w":0.25},{"t":1989.56,"w":0.2},{"t":1989.64,"w":0.3},{"t":1989.72,"w":0.25},{"t":1989.8,"w":0.15},{"t":1989.88,"w":0.25},{"t":1990.0,"w":0.4},{"t":1990.08,"w":0.3},{"t":1990.15,"w":0.3},{"t":1990.22,"w":0.28},{"t":1990.29,"w":0.28},{"t":1990.37,"w":0.1},{"t":1990.45,"w":0.15},{"t":1990.53,"w":0.1},{"t":1990.61,"w":0.12},{"t":1990.69,"w":0.1},{"t":1990.77,"w":0.5},{"t":1990.85,"w":0.55},{"t":1990.91,"w":0.68},{"t":1990.98,"w":0.3},
{"t":1991.06,"w":0.0},{"t":1991.14,"w":0.2},{"t":1991.22,"w":0.35},{"t":1991.3,"w":0.2},{"t":1991.38,"w":0.2},{"t":1991.46,"w":0.25},{"t":1991.54,"w":0.1},{"t":1991.62,"w":0.1},{"t":1991.74,"w":0.35},{"t":1991.82,"w":0.3},{"t":1991.9,"w":0.15},{"t":1991.98,"w":0.1},{"t":1992.06,"w":0.05},{"t":1992.17,"w":-0.2},{"t":1992.22,"w":0.0},{"t":1992.3,"w":0.2},{"t":1992.38,"w":0.15},{"t":1992.44,"w":0.2},{"t":1992.5,"w":0.3},{"t":1992.57,"w":-0.2},{"t":1992.67,"w":0.05},{"t":1992.75,"w":0.2},{"t":1992.83,"w":0.5},{"t":1992.9,"w":0.0},{"t":1992.98,"w":0.45},
{"t":1993.04,"w":0.1},{"t":1993.1,"w":-0.05},{"t":1993.18,"w":0.0},{"t":1993.24,"w":0.1},{"t":1993.3,"w":-0.05},{"t":1993.38,"w":-0.05},{"t":1993.46,"w":0.1},{"t":1993.54,"w":0.0},{"t":1993.62,"w":-0.03},{"t":1993.67,"w":0.05},{"t":1993.74,"w":0.1},{"t":1993.82,"w":0.25},{"t":1993.88,"w":0.42},{"t":1993.94,"w":0.43},{"t":1993.99,"w":0.0},{"t":1994.07,"w":0.1},{"t":1994.15,"w":0.05},{"t":1994.23,"w":0.05},{"t":1994.31,"w":0.05},{"t":1994.4,"w":-0.25},{"t":1994.48,"w":0.0},{"t":1994.56,"w":-0.05},{"t":1994.64,"w":0.05},{"t":1994.72,"w":0.0},{"t":1994.8,"w":-0.15},{"t":1994.87,"w":-0.15},{"t":1994.95,"w":-0.27},
{"t":1995.03,"w":-0.1},{"t":1995.11,"w":-0.15},{"t":1995.19,"w":-0.05},{"t":1995.27,"w":-0.2},{"t":1995.35,"w":0.0},{"t":1995.43,"w":-0.15},{"t":1995.51,"w":-0.1},{"t":1995.6,"w":-0.2},{"t":1995.68,"w":-0.05},{"t":1995.76,"w":-0.15},{"t":1995.84,"w":-0.1},{"t":1995.92,"w":-0.37},{"t":1996.0,"w":-0.2},{"t":1996.08,"w":-0.15},{"t":1996.16,"w":-0.2},{"t":1996.24,"w":-0.2},{"t":1996.32,"w":-0.25},{"t":1996.4,"w":-0.2},{"t":1996.48,"w":-0.3},{"t":1996.56,"w":-0.42},{"t":1996.64,"w":-0.3},{"t":1996.72,"w":-0.27},{"t":1996.8,"w":-0.2},{"t":1996.88,"w":-0.15},{"t":1996.96,"w":-0.2},
{"t":1997.04,"w":-0.3},{"t":1997.12,"w":-0.2},{"t":1997.2,"w":-0.3},{"t":1997.28,"w":-0.15},{"t":1997.36,"w":-0.15},{"t":1997.43,"w":-0.2},{"t":1997.51,"w":-0.3},{"t":1997.59,"w":-0.25},{"t":1997.68,"w":-0.42},{"t":1997.76,"w":-0.25},{"t":1997.85,"w":-0.15},{"t":1997.93,"w":-0.1},{"t":1998.01,"w":-0.15},{"t":1998.1,"w":-0.08},{"t":1998.18,"w":-0.1},{"t":1998.26,"w":-0.05},{"t":1998.34,"w":-0.05},{"t":1998.42,"w":0.0},{"t":1998.48,"w":-0.05},{"t":1998.54,"w":-0.5},{"t":1998.62,"w":-0.45},{"t":1998.7,"w":-0.15},{"t":1998.78,"w":-0.02},{"t":1998.86,"w":0.0},{"t":1998.94,"w":-0.2},
{"t":1999.02,"w":-0.05},{"t":1999.1,"w":-0.02},{"t":1999.18,"w":0.0},{"t":1999.26,"w":0.0},{"t":1999.34,"w":0.0},{"t":1999.42,"w":0.02},{"t":1999.5,"w":0.05},{"t":1999.58,"w":0.18},{"t":1999.66,"w":0.1},{"t":1999.72,"w":0.35},{"t":1999.79,"w":0.37},{"t":1999.86,"w":-0.15},{"t":1999.93,"w":0.0},{"t":2000.0,"w":0.0},{"t":2000.08,"w":0.0},{"t":2000.18,"w":0.02},{"t":2000.26,"w":-0.2},{"t":2000.34,"w":-0.15},{"t":2000.45},{"t":2000.55,"w":0.02},{"t":2000.63,"w":-0.1},{"t":2000.71,"w":-0.2},{"t":2000.79,"w":-0.22},{"t":2000.87,"w":-0.3},{"t":2000.95,"w":-0.05},
{"t":2001.03,"w":0.33},{"t":2001.11,"w":0.1},{"t":2001.19,"w":0.05},{"t":2001.27,"w":0.0},{"t":2001.35,"w":-0.05},{"t":2001.43,"w":-0.1},{"t":2001.51,"w":-0.1},{"t":2001.59,"w":0.0},{"t":2001.67,"w":0.2},{"t":2001.75,"w":-0.15},{"t":2001.83,"w":-0.4},{"t":2001.91,"w":-0.2},{"t":2001.99,"w":0.05},{"t":2002.07,"w":0.1},{"t":2002.15,"w":0.25},{"t":2002.23,"w":0.2},{"t":2002.31,"w":0.25},{"t":2002.4,"w":0.2},{"t":2002.48,"w":-0.05},{"t":2002.56,"w":0.15},{"t":2002.64,"w":0.25},{"t":2002.72,"w":0.0},{"t":2002.8,"w":-0.3},{"t":2002.88,"w":-0.1},{"t":2002.96,"w":0.0},
{"t":2003.04,"w":0.15},{"t":2003.12,"w":0.0},{"t":2003.2,"w":-0.05},{"t":2003.28,"w":-0.12},{"t":2003.36,"w":0.0},{"t":2003.44,"w":0.2},{"t":2003.52,"w":0.05},{"t":2003.6,"w":0.2,"o":0.0},{"t":2003.68,"w":0.2,"o":0.2},{"t":2003.74,"w":0.3,"o":0.25},{"t":2003.81,"w":0.5,"o":0.15},{"t":2003.88,"w":0.3,"o":0.1},{"t":2003.97,"w":0.2,"o":0.05},
{"t":2004.05,"w":0.0,"o":-0.1},{"t":2004.13,"w":0.1,"o":0.0},{"t":2004.21,"w":0.05,"o":0.3},{"t":2004.29,"w":0.3,"o":0.35},{"t":2004.37,"w":0.1,"o":0.3},{"t":2004.45,"w":0.0,"o":0.3},{"t":2004.53,"w":0.3,"o":0.1},{"t":2004.6,"w":0.3,"o":-0.2},{"t":2004.65,"w":0.25,"o":-0.5},{"t":2004.72,"w":0.2,"o":-0.1},{"t":2004.77,"w":0.15,"o":0.25},{"t":2004.85,"w":0.15,"o":0.35},{"t":2004.92,"w":0.2,"o":0.2},{"t":2004.98,"w":0.18,"o":0.0},
{"t":2005.06,"w":0.0,"o":-0.05},{"t":2005.13,"w":0.0,"o":-0.05},{"t":2005.21,"w":-0.05,"o":-0.05},{"t":2005.29,"w":0.0,"o":0.0},{"t":2005.37,"w":0.0,"o":-0.05},{"t":2005.45,"w":-0.03,"o":0.05},{"t":2005.53,"w":-0.05,"o":0.1},{"t":2005.6,"w":-0.03,"o":0.05},{"t":2005.68,"w":0.0,"o":0.05},{"t":2005.77,"w":0.0,"o":0.0},{"t":2005.85,"w":0.0,"o":0.0},{"t":2005.93,"w":-0.25,"o":-0.3},
{"t":2006.0,"w":-0.2,"o":-0.2},{"t":2006.1,"w":0.3,"o":0.3},{"t":2006.18,"w":0.2,"o":0.2},{"t":2006.25,"w":0.0,"o":-0.2},{"t":2006.33,"w":0.05,"o":0.1},{"t":2006.41,"w":0.0,"o":0.05},{"t":2006.49,"w":0.15,"o":0.15},{"t":2006.57,"w":0.25,"o":0.1},{"t":2006.66,"w":0.2,"o":0.2},{"t":2006.74,"w":0.25,"o":0.1},{"t":2006.81,"w":0.2,"o":0.25},{"t":2006.9,"w":0.25,"o":0.05},{"t":2006.98,"w":0.15,"o":0.15},
{"t":2007.05,"w":0.25,"o":0.05},{"t":2007.14,"w":0.35,"o":0.1},{"t":2007.22,"w":0.25,"o":0.0},{"t":2007.3,"w":0.2,"o":0.1},{"t":2007.38,"w":0.15,"o":0.25},{"t":2007.46,"w":0.0,"o":-0.2},{"t":2007.54,"w":0.25,"o":0.25},{"t":2007.62,"w":0.0,"o":-0.05},{"t":2007.7,"w":0.3,"o":0.3},{"t":2007.78,"w":0.3,"o":0.15},{"t":2007.86,"w":0.15,"o":-0.1},{"t":2007.94,"w":0.1,"o":0.0},
{"t":2008.02,"w":0.1,"o":-0.1},{"t":2008.1,"w":0.25,"o":0.2},{"t":2008.18,"w":0.1,"o":-0.05},{"t":2008.26,"w":0.15,"o":-0.1},{"t":2008.35,"w":0.05,"o":0.1},{"t":2008.42,"w":0.15,"o":0.0},{"t":2008.5,"w":0.2,"o":-0.1},{"t":2008.59,"w":0.15,"o":-0.2},{"t":2008.67,"w":0.15,"o":-0.1},{"t":2008.75,"w":0.1,"o":-0.2},{"t":2008.83,"w":0.15,"o":0.0},{"t":2008.9,"w":0.65,"o":0.65},{"t":2008.95,"w":0.2,"o":0.3},
{"t":2009.02,"w":0.05,"o":0.0},{"t":2009.1,"w":0.0,"o":0.2},{"t":2009.18,"w":0.15,"o":0.05},{"t":2009.26,"w":0.1,"o":0.0},{"t":2009.31,"w":0.3,"o":0.0},{"t":2009.39,"w":0.15,"o":-0.05},{"t":2009.47,"w":0.1,"o":0.0},{"t":2009.55,"w":0.15,"o":0.05},{"t":2009.63,"w":0.1,"o":-0.05},{"t":2009.71,"w":0.15,"o":0.05},{"t":2009.79,"w":0.05,"o":-0.2},{"t":2009.87,"w":0.05,"o":-0.1},{"t":2009.95,"w":0.0,"o":0.0},
{"t":2010.03,"w":0.1,"o":0.15},{"t":2010.11,"w":0.2,"o":0.2},{"t":2010.19,"w":0.15,"o":0.2},{"t":2010.27,"w":0.25,"o":0.15},{"t":2010.35,"w":0.2,"o":0.15},{"t":2010.43,"w":0.3,"o":0.2},{"t":2010.51,"w":0.3,"o":0.25},{"t":2010.58,"w":0.43,"o":0.4},{"t":2010.67,"w":0.15,"o":0.2},{"t":2010.75,"w":0.35,"o":0.1},{"t":2010.84,"w":0.4,"o":0.0},{"t":2010.92,"w":0.4,"o":0.0},{"t":2010.96,"w":0.05,"o":-0.05},
{"t":2011.0,"w":-0.2,"o":-0.05},{"t":2011.08,"w":0.2,"o":0.0},{"t":2011.16,"w":0.2,"o":-0.05},{"t":2011.24,"w":0.15,"o":-0.05},{"t":2011.32,"w":0.2,"o":0.05},{"t":2011.4,"w":0.1,"o":-0.05},{"t":2011.48,"w":0.2,"o":0.0},{"t":2011.56,"w":0.2,"o":0.3},{"t":2011.64,"w":0.45,"o":0.25},{"t":2011.72,"w":0.55,"o":0.2},{"t":2011.8,"w":0.4,"o":0.0},{"t":2011.88,"w":0.1,"o":-0.1},{"t":2011.96,"w":0.0,"o":-0.27},
{"t":2012.04,"w":0.15,"o":-0.15},{"t":2012.12,"w":0.3,"o":0.1},{"t":2012.2,"w":0.3,"o":0.1},{"t":2012.28,"w":0.2,"o":0.12},{"t":2012.36,"w":0.15,"o":0.0},{"t":2012.44,"w":0.15,"o":0.05},{"t":2012.52,"w":0.3,"o":0.0},{"t":2012.6,"w":0.5,"o":-0.05},{"t":2012.68,"w":0.55,"o":-0.15},{"t":2012.76,"w":0.5,"o":-0.2},{"t":2012.85,"w":0.2,"o":-0.4},{"t":2012.93,"w":0.05,"o":-0.15},
{"t":2013.01,"w":0.35,"o":0.0},{"t":2013.09,"w":0.3,"o":0.1},{"t":2013.17,"w":0.35,"o":0.35},{"t":2013.25,"w":0.3,"o":-0.1},{"t":2013.33,"w":0.25,"o":0.0},{"t":2013.42,"w":0.45,"o":0.1},{"t":2013.5,"w":0.56,"o":0.05},{"t":2013.58,"w":0.45,"o":0.05},{"t":2013.65,"w":0.4,"o":-0.1},{"t":2013.73,"w":0.35,"o":-0.15},{"t":2013.81,"w":0.1,"o":-0.15},{"t":2013.9,"w":0.1,"o":-0.2},{"t":2013.98,"w":0.05,"o":-0.2},
{"t":2014.06,"w":0.05,"o":-0.15},{"t":2014.13,"w":0.05,"o":-0.2},{"t":2014.21,"w":0.05,"o":-0.25},{"t":2014.29,"w":0.0,"o":-0.3},{"t":2014.37,"w":0.3,"o":-0.2},{"t":2014.45,"w":0.25,"o":-0.15},{"t":2014.53,"w":0.3,"o":-0.2},{"t":2014.6,"w":0.4,"o":-0.1},{"t":2014.68,"w":0.2,"o":-0.2},{"t":2014.76,"w":0.2,"o":-0.35},{"t":2014.8,"w":0.3,"o":-0.6},{"t":2014.85,"w":0.4,"o":-0.2},{"t":2014.92,"w":0.2,"o":-0.1},
{"t":2015.0,"w":0.15,"o":-0.1},{"t":2015.08,"w":0.1,"o":0.0},{"t":2015.16,"w":0.1,"o":-0.1},{"t":2015.24,"w":0.0,"o":-0.1},{"t":2015.32,"w":0.1,"o":-0.2},{"t":2015.4,"w":0.0,"o":-0.5},{"t":2015.48,"w":0.2,"o":-0.3},{"t":2015.56,"w":0.3,"o":-0.18},{"t":2015.65,"w":0.2}
],
"C":[
{"t":1965.85,"w":-0.065,"k":0.06},{"t":1966.1,"w":-0.1,"k":0.07},{"t":1966.3,"w":-0.08,"k":0.04},{"t":1966.5,"w":-0.02,"k":0.09},{"t":1966.7,"w":-0.05,"k":0.05},{"t":1967.0,"w":-0.07,"k":0.01},{"t":1967.3,"w":-0.02,"k":0.0},{"t":1967.5,"w":-0.05,"k":0.03},{"t":1967.7,"w":-0.1,"k":0.01},{"t":1968.0,"w":-0.15,"k":-0.04},{"t":1968.15,"w":-0.18,"k":-0.06},{"t":1968.3,"w":-0.15,"k":-0.07},{"t":1968.6,"w":-0.12,"k":-0.11},{"t":1968.9,"w":-0.05,"k":-0.08},{"t":1969.1,"w":-0.02,"k":-0.07},{"t":1969.25,"w":-0.05,"k":-0.07},{"t":1969.35,"w":0.0,"k":-0.07},{"t":1969.6,"w":-0.05,"k":-0.08},{"t":1969.8,"w":-0.09,"k":-0.09},
{"t":1970.05,"w":-0.16,"k":-0.1},{"t":1970.3,"w":-0.08,"k":-0.04},{"t":1970.5,"w":-0.09,"k":0.0},{"t":1970.8,"w":-0.07,"k":0.05},{"t":1971.0,"w":-0.1,"k":0.06},{"t":1971.3,"w":-0.05,"k":0.12},{"t":1971.5,"w":-0.02,"k":0.1},{"t":1971.8,"w":0.0,"k":0.07},{"t":1972.0,"w":0.05,"k":0.08},{"t":1972.2,"w":0.08,"k":0.13},{"t":1972.5,"w":0.08,"k":0.15},{"t":1972.7,"w":0.1,"k":0.13},{"t":1973.0,"w":0.08,"k":0.12},{"t":1973.2,"w":0.02,"k":0.04},{"t":1973.4,"w":-0.06,"k":-0.04},{"t":1973.7,"w":-0.07,"k":-0.05},{"t":1974.0,"w":-0.1,"k":-0.07},{"t":1974.3,"w":-0.15,"k":-0.1},{"t":1974.5,"w":-0.12,"k":-0.12},{"t":1974.8,"w":-0.14,"k":-0.04},
{"t":1975.1,"w":-0.19,"k":-0.02},{"t":1975.3,"w":-0.15,"k":-0.06},{"t":1975.6,"w":-0.17,"k":-0.07},{"t":1975.9,"w":-0.17,"k":-0.1},{"t":1976.2,"w":-0.24,"k":-0.1},{"t":1976.5,"w":-0.21,"k":-0.08},{"t":1976.9,"w":-0.22,"k":-0.04},{"t":1977.1,"w":-0.19,"k":0.0},{"t":1977.3,"w":-0.12,"k":0.05},{"t":1977.5,"w":-0.06,"k":0.13},{"t":1977.8,"w":-0.06,"k":0.11},{"t":1978.0,"w":-0.04,"k":0.1},{"t":1978.2,"w":-0.15,"k":0.04},{"t":1978.4,"w":-0.12,"k":0.02},{"t":1978.7,"w":-0.17,"k":0.0},{"t":1979.0,"w":-0.19,"k":-0.03},{"t":1979.3,"w":-0.21,"k":-0.05},{"t":1979.5,"w":-0.18,"k":-0.08},{"t":1979.7,"w":-0.21,"k":-0.02},
{"t":1980.0,"w":-0.17,"k":0.01},{"t":1980.3,"w":-0.16,"k":0.0},{"t":1980.6,"w":-0.13,"k":0.01},{"t":1981.0,"w":-0.11,"k":0.02},{"t":1981.3,"w":-0.09,"k":0.06},{"t":1981.6,"w":-0.06,"k":0.09},{"t":1982.0,"w":-0.01,"k":0.09},{"t":1982.2,"w":-0.05,"k":0.05},{"t":1982.4,"w":-0.08,"k":-0.09},{"t":1982.6,"w":-0.13,"k":-0.15},{"t":1982.9,"w":-0.2,"k":-0.18},{"t":1983.1,"w":-0.22,"k":-0.16},{"t":1983.3,"w":-0.22,"k":-0.13},{"t":1983.6,"w":-0.24,"k":-0.12},{"t":1984.0,"w":-0.29,"k":-0.13},{"t":1984.3,"w":-0.32,"k":-0.15},{"t":1984.6,"w":-0.33,"k":-0.17},{"t":1984.9,"w":-0.25,"k":-0.11},
{"t":1985.2,"w":-0.18,"k":-0.06},{"t":1985.5,"w":-0.1,"k":-0.02},{"t":1985.7,"w":-0.09,"k":0.03},{"t":1986.0,"w":-0.08,"k":0.01},{"t":1986.3,"w":-0.07,"k":-0.01},{"t":1986.6,"w":-0.06,"k":0.02},{"t":1987.0,"w":-0.04,"k":0.02},{"t":1987.2,"w":0.03,"k":0.1},{"t":1987.5,"w":0.04,"k":0.13},{"t":1987.8,"w":0.09,"k":0.18},{"t":1988.0,"w":0.05,"k":0.12},{"t":1988.2,"w":-0.01,"k":0.03},{"t":1988.4,"w":-0.03,"k":0.0},
{"t":1988.6,"w":-0.05},{"t":1988.9,"w":-0.07},{"t":1989.1,"w":-0.02},{"t":1989.3,"w":0.03},{"t":1989.6,"w":0.15},{"t":1990.0,"w":0.22},{"t":1990.2,"w":0.21},{"t":1990.4,"w":0.26},{"t":1990.6,"w":0.23},{"t":1991.0,"w":0.22},{"t":1991.4,"w":0.21},{"t":1991.6,"w":0.15},{"t":1992.0,"w":0.12},{"t":1992.5,"w":0.11},{"t":1993.0,"w":0.05},{"t":1993.5,"w":0.07},{"t":1994.0,"w":0.04},{"t":1994.2,"w":0.05},{"t":1994.5,"w":-0.02},{"t":1994.7,"w":-0.08},
{"t":1995.0,"w":-0.1},{"t":1995.5,"w":-0.15},{"t":1996.0,"w":-0.2},{"t":1996.3,"w":-0.24},{"t":1996.7,"w":-0.23},{"t":1997.0,"w":-0.25},{"t":1997.3,"w":-0.21},{"t":1997.6,"w":-0.24},{"t":1997.9,"w":-0.2},{"t":1998.1,"w":-0.22},{"t":1998.25,"w":-0.14},{"t":1998.6,"w":-0.11},{"t":1999.0,"w":-0.1},{"t":1999.2,"w":-0.04},{"t":1999.4,"w":0.03},{"t":1999.7,"w":0.04},
{"t":2000.0,"w":0.07},{"t":2000.2,"w":0.02},{"t":2000.4,"w":-0.11},{"t":2000.6,"w":-0.05},{"t":2001.0,"w":-0.05},{"t":2001.4,"w":-0.01},{"t":2001.8,"w":0.01},{"t":2002.0,"w":0.04},{"t":2002.5,"w":0.05},{"t":2002.9,"w":0.0},{"t":2003.2,"w":0.0},{"t":2003.5,"w":0.12},{"t":2003.8,"w":0.16},
{"t":2004.1,"w":0.21,"o":0.08},{"t":2004.2,"w":0.2,"o":0.03},{"t":2004.5,"w":0.16,"o":0.04},{"t":2004.8,"w":0.12,"o":0.03},{"t":2005.0,"w":0.04,"o":-0.02},{"t":2005.15,"w":0.03,"o":0.0},{"t":2005.3,"w":0.02,"o":0.06},{"t":2005.5,"w":0.02,"o":-0.02},{"t":2005.8,"w":0.04,"o":0.02},{"t":2006.1,"w":0.06,"o":0.05},{"t":2006.4,"w":0.12,"o":0.05},{"t":2006.6,"w":0.17,"o":0.09},{"t":2006.9,"w":0.19,"o":0.08},
{"t":2007.2,"w":0.18,"o":0.08},{"t":2007.5,"w":0.15,"o":0.06},{"t":2007.8,"w":0.13,"o":0.03},{"t":2008.1,"w":0.15,"o":-0.01},{"t":2008.3,"w":0.17,"o":0.0},{"t":2008.5,"w":0.19,"o":0.03},{"t":2008.8,"w":0.23,"o":0.09},{"t":2009.0,"w":0.21,"o":0.09},{"t":2009.2,"w":0.2,"o":0.13},{"t":2009.4,"w":0.18,"o":0.06},{"t":2009.6,"w":0.15,"o":0.04},{"t":2009.8,"w":0.14,"o":0.04},
{"t":2010.0,"w":0.15,"o":0.04},{"t":2010.2,"w":0.19,"o":0.06},{"t":2010.4,"w":0.24,"o":0.1},{"t":2010.7,"w":0.24,"o":0.1},{"t":2011.0,"w":0.24,"o":0.07},{"t":2011.3,"w":0.26,"o":0.06},{"t":2011.6,"w":0.27,"o":0.05},{"t":2011.9,"w":0.3,"o":0.07},{"t":2012.1,"w":0.32,"o":0.04},{"t":2012.2,"w":0.33,"o":0.0},{"t":2012.4,"w":0.28,"o":-0.08},{"t":2012.7,"w":0.29,"o":-0.08},{"t":2012.9,"w":0.31,"o":-0.12},
{"t":2013.0,"w":0.34,"o":-0.11},{"t":2013.2,"w":0.31,"o":-0.1},{"t":2013.4,"w":0.29,"o":-0.11},{"t":2013.6,"w":0.26,"o":-0.15},{"t":2013.8,"w":0.24,"o":-0.19},{"t":2014.0,"w":0.21,"o":-0.19},{"t":2014.1,"w":0.2,"o":-0.22},{"t":2014.2,"w":0.19,"o":-0.26},{"t":2014.4,"w":0.18,"o":-0.24},{"t":2014.7,"w":0.2,"o":-0.23},{"t":2014.8,"w":0.22,"o":-0.22},{"t":2015.0,"w":0.21,"o":-0.21},{"t":2015.2,"w":0.2,"o":-0.21}
]
},
"vconcat":[
{
 "width":1059,"height":157.5,
 "title":{"text":"(a)"},
 "data":{"name":"A"},
 "transform":[{"fold":["k","w","o"]}],
 "mark":{"type":"line"},
 "encoding":{
  "x":{"field":"t","type":"quantitative","scale":{"domain":[1965,2016],"nice":false,"zero":false},
   "axis":{"title":"Year","values":[1965,1966,1967,1968,1969,1970,1971,1972,1973,1974,1975,1976,1977,1978,1979,1980,1981,1982,1983,1984,1985,1986,1987,1988,1989,1990,1991,1992,1993,1994,1995,1996,1997,1998,1999,2000,2001,2002,2003,2004,2005,2006,2007,2008,2009,2010,2011,2012,2013,2014,2015,2016],
    "labelExpr":"datum.value % 5 == 0 ? '' + datum.value : ''",
    "tickSize":{"condition":{"test":"datum.value % 5 == 0","value":10},"value":5},
    "gridOpacity":{"condition":{"test":"datum.value % 5 == 0 && datum.value > 1965","value":1},"value":0}}},
  "y":{"field":"value","type":"quantitative","scale":{"domain":[0,2.19],"nice":false,"zero":false},
   "axis":{"title":"Transport (Sv)","values":[0,0.5,1,1.5,2],
    "labelExpr":"datum.value % 1 == 0 ? format(datum.value, '.1f') : ''",
    "tickSize":{"condition":{"test":"datum.value % 1 == 0","value":10},"value":5},
    "gridOpacity":{"condition":{"test":"datum.value == 1 || datum.value == 2","value":1},"value":0}}},
  "color":{"field":"key","type":"nominal","scale":{"domain":["k","w","o"],"range":["#ff00ff","#0000ff","#2f9a16"]},
   "legend":{"title":null,"legendX":331.3,"legendY":2.3,"labelExpr":"datum.label == 'k' ? 'SLD(WK-KR)' : datum.label == 'w' ? 'SLD(WK-AB)' : 'Obs(HF radar)'"}}
 }
},
{
 "width":1059,"height":157.5,
 "title":{"text":"(b)"},
 "data":{"name":"B"},
 "transform":[{"fold":["k","w","o"]}],
 "mark":{"type":"line"},
 "encoding":{
  "x":{"field":"t","type":"quantitative","scale":{"domain":[1965,2016],"nice":false,"zero":false},
   "axis":{"title":"Year","values":[1965,1966,1967,1968,1969,1970,1971,1972,1973,1974,1975,1976,1977,1978,1979,1980,1981,1982,1983,1984,1985,1986,1987,1988,1989,1990,1991,1992,1993,1994,1995,1996,1997,1998,1999,2000,2001,2002,2003,2004,2005,2006,2007,2008,2009,2010,2011,2012,2013,2014,2015,2016],
    "labelExpr":"datum.value % 5 == 0 ? '' + datum.value : ''",
    "tickSize":{"condition":{"test":"datum.value % 5 == 0","value":10},"value":5},
    "gridOpacity":{"condition":{"test":"datum.value % 5 == 0 && datum.value > 1965","value":1},"value":0}}},
  "y":{"field":"value","type":"quantitative","scale":{"domain":[-0.8,0.8],"nice":false,"zero":false},
   "axis":{"title":"Transport (Sv)","values":[-0.8,-0.6,-0.4,-0.2,0,0.2,0.4,0.6,0.8],
    "labelExpr":"round(datum.value*10) % 4 == 0 ? replace(format(datum.value, '.1f'), '\u2212', '-') : ''",
    "tickSize":{"condition":{"test":"round(datum.value*10) % 4 == 0","value":10},"value":5},
    "gridColor":{"condition":{"test":"datum.value == 0","value":"black"},"value":"#bdbdbd"},
    "gridOpacity":{"condition":{"test":"abs(round(datum.value*10)) == 4 || datum.value == 0","value":1},"value":0}}},
  "color":{"field":"key","type":"nominal","scale":{"domain":["k","w","o"],"range":["#ff00ff","#0000ff","#2f9a16"]},
   "legend":{"title":null,"legendX":366.3,"legendY":127.3,"labelExpr":"datum.label == 'k' ? 'SLD(WK-KR)' : datum.label == 'w' ? 'SLD(WK-AB)' : 'Obs(HF radar)'"}}
 }
},
{
 "width":1059,"height":157.5,
 "title":{"text":"(c)"},
 "data":{"name":"C"},
 "transform":[{"fold":["k","w","o"]}],
 "mark":{"type":"line"},
 "encoding":{
  "x":{"field":"t","type":"quantitative","scale":{"domain":[1965,2016],"nice":false,"zero":false},
   "axis":{"title":"Year","values":[1965,1966,1967,1968,1969,1970,1971,1972,1973,1974,1975,1976,1977,1978,1979,1980,1981,1982,1983,1984,1985,1986,1987,1988,1989,1990,1991,1992,1993,1994,1995,1996,1997,1998,1999,2000,2001,2002,2003,2004,2005,2006,2007,2008,2009,2010,2011,2012,2013,2014,2015,2016],
    "labelExpr":"datum.value % 5 == 0 ? '' + datum.value : ''",
    "tickSize":{"condition":{"test":"datum.value % 5 == 0","value":10},"value":5},
    "gridOpacity":{"condition":{"test":"datum.value % 5 == 0 && datum.value > 1965","value":1},"value":0}}},
  "y":{"field":"value","type":"quantitative","scale":{"domain":[-0.45,0.45],"nice":false,"zero":false},
   "axis":{"title":"Transport (Sv)","values":[-0.4,-0.3,-0.2,-0.1,0,0.1,0.2,0.3,0.4],
    "labelExpr":"round(datum.value*10) % 2 == 0 ? replace(format(datum.value, '.1f'), '\u2212', '-') : ''",
    "tickSize":{"condition":{"test":"round(datum.value*10) % 2 == 0","value":10},"value":5},
    "gridColor":{"condition":{"test":"datum.value == 0","value":"#333333"},"value":"#bdbdbd"},
    "gridOpacity":{"condition":{"test":"round(datum.value*10) % 2 == 0","value":1},"value":0}}},
  "color":{"field":"key","type":"nominal","scale":{"domain":["k","w","o"],"range":["#ff00ff","#0000ff","#2f9a16"]},
   "legend":{"title":null,"legendX":424.3,"legendY":127.3,"labelExpr":"datum.label == 'k' ? 'SLD(WK-KR)' : datum.label == 'w' ? 'SLD(WK-AB)' : 'Obs(HF radar)'"}}
 }
}
]
}
